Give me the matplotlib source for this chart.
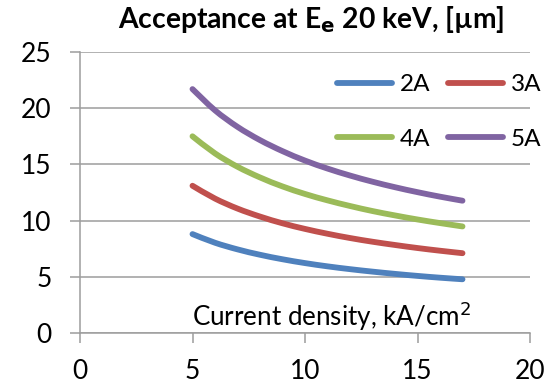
import matplotlib
matplotlib.use("Agg")
import matplotlib.pyplot as plt
from matplotlib.path import Path
from matplotlib.patches import PathPatch
from matplotlib.lines import Line2D

# Acceptance vs current density for several beam currents
current_density = [5, 6, 7, 8, 9, 10, 11, 12, 13, 14, 15, 16, 17]
acc_2a = [8.8, 8.03, 7.44, 6.96, 6.56, 6.22, 5.93, 5.68, 5.46, 5.26, 5.08, 4.92, 4.78]
acc_3a = [13.1, 11.96, 11.07, 10.36, 9.76, 9.26, 8.83, 8.45, 8.12, 7.83, 7.56, 7.32, 7.1]
acc_4a = [17.5, 15.98, 14.79, 13.84, 13.04, 12.37, 11.8, 11.3, 10.85, 10.46, 10.1, 9.78, 9.48]
acc_5a = [21.7, 19.81, 18.34, 17.16, 16.18, 15.34, 14.63, 14.01, 13.46, 12.97, 12.53, 12.13, 11.77]
series_labels = ["2A", "3A", "4A", "5A"]
colors = ["#4F81BD", "#C0504D", "#9BBB59", "#8064A2"]
x_ticks = [0, 5, 10, 15, 20]
y_ticks = [0, 5, 10, 15, 20, 25]

LW = 4.2
GRID = "#9d9d9d"

plt.rcParams["font.family"] = ["Lato", "DejaVu Sans"]


def smooth_path(xs, ys, tension=1 / 6):
    """Catmull-Rom style cubic Bezier through the points (spreadsheet 'smoothed line')."""
    n = len(xs)
    verts = [(xs[0], ys[0])]
    codes = [Path.MOVETO]
    for i in range(n - 1):
        x0, y0 = (xs[i - 1], ys[i - 1]) if i > 0 else (xs[i], ys[i])
        x1, y1 = xs[i], ys[i]
        x2, y2 = xs[i + 1], ys[i + 1]
        x3, y3 = (xs[i + 2], ys[i + 2]) if i + 2 < n else (xs[i + 1], ys[i + 1])
        c1 = (x1 + (x2 - x0) * tension, y1 + (y2 - y0) * tension)
        c2 = (x2 - (x3 - x1) * tension, y2 - (y3 - y1) * tension)
        verts += [c1, c2, (x2, y2)]
        codes += [Path.CURVE4] * 3
    return Path(verts, codes)


fig = plt.figure(figsize=(5.49, 3.87), dpi=100)
ax = fig.add_axes([80 / 549, 1 - 333 / 387, 450 / 549, 281 / 387])

handles = []
for vals, lab, col in zip([acc_2a, acc_3a, acc_4a, acc_5a], series_labels, colors):
    patch = PathPatch(smooth_path(current_density, vals), fill=False, edgecolor=col,
                      lw=LW, capstyle="round", joinstyle="round", zorder=3)
    ax.add_patch(patch)
    handles.append(Line2D([], [], color=col, lw=LW, solid_capstyle="round", label=lab))

ax.set_xlim(0, 20)
ax.set_ylim(0, 25)
ax.set_xticks(x_ticks)
ax.set_yticks(y_ticks)
ax.yaxis.grid(True, color=GRID, lw=1.1)
ax.set_axisbelow(True)
for s in ["top", "right"]:
    ax.spines[s].set_visible(False)
for s in ["left", "bottom"]:
    ax.spines[s].set_color(GRID)
    ax.spines[s].set_linewidth(1.1)
ax.tick_params(axis="both", color=GRID, length=7, width=1.1, labelsize=19, labelcolor="black")
ax.tick_params(axis="x", pad=12)
ax.tick_params(axis="y", pad=13.5)

fig.text(192 / 549, 1 - 326 / 387, "Current density, kA/cm$^2$",
         ha="left", va="baseline", fontsize=18.7)

fig.text(311.5 / 549, 1 - 28 / 387, r"Acceptance at E$_\mathbf{e}$ 20 keV, [µm]",
         ha="center", va="baseline", fontsize=20.3, fontweight="bold")

# row-major order in a two-column legend: 2A 3A / 4A 5A
order = [0, 2, 1, 3]
fig.legend(handles=[handles[i] for i in order], labels=[series_labels[i] for i in order],
           ncol=2, loc="upper left", bbox_to_anchor=(337 / 549, 1 - 74.3 / 387),
           frameon=False, fontsize=17.5, handlelength=2.26, handletextpad=0.32,
           columnspacing=0.75, labelspacing=1.37, borderaxespad=0, borderpad=0)

fig.savefig("out.png", dpi=100)
